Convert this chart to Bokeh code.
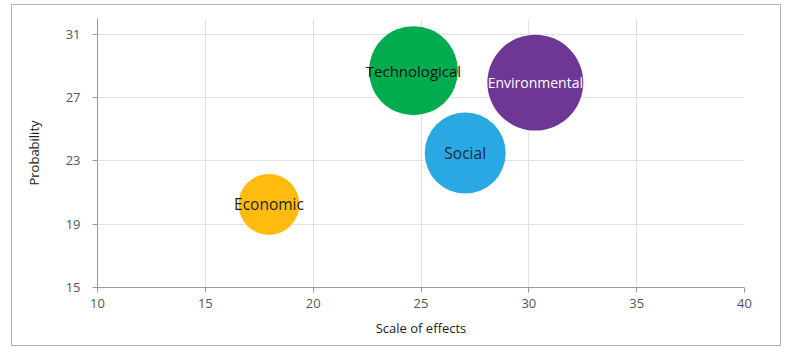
from bokeh.plotting import figure
from bokeh.models import ColumnDataSource, FixedTicker, Range1d
from bokeh.core.properties import value
from bokeh.embed import file_html
from bokeh.resources import INLINE
import math

categories = ["Economic", "Technological", "Environmental", "Social"]
scale_of_effects = [17.95, 24.65, 30.3, 27.05]
probability = [20.25, 28.7, 27.95, 23.5]
weight = [9.3, 19.8, 23.0, 16.4]
colors = ["#FFBC0F", "#00AC4E", "#6F3795", "#2AA8E3"]
label_colors = ["#1e1e1e", "#111111", "#FFFFFF", "#1e2a3a"]
label_sizes = ["15.5px", "15px", "14px", "15.5px"]
x_ticks = [10, 15, 20, 25, 30, 35, 40]
y_ticks = [15, 19, 23, 27, 31]

diam = [20 * math.sqrt(w) for w in weight]

src = ColumnDataSource(dict(x=scale_of_effects, y=probability, size=diam,
                            color=colors, name=categories, tcolor=label_colors,
                            tsize=label_sizes))

p = figure(width=770, height=342, output_backend="svg", toolbar_location=None,
           x_range=Range1d(10, 40), y_range=Range1d(15, 32),
           min_border_left=85, min_border_right=38, min_border_top=13, min_border_bottom=60)
p.margin = (4, 0, 0, 11)
p.styles = {"border": "1px solid #b4b4b4"}
p.outline_line_color = None
p.background_fill_color = "white"
p.border_fill_color = "white"

p.scatter("x", "y", size="size", fill_color="color", line_color=None, source=src)
p.text("x", "y", text="name", text_color="tcolor", text_align="center", text_baseline="middle",
       text_font=value("Open Sans"), text_font_size="tsize", source=src)

for ax in (p.xaxis, p.yaxis):
    ax.axis_line_color = "#9a9a9a"
    ax.major_tick_line_color = "#9a9a9a"
    ax.major_tick_in = 0
    ax.major_tick_out = 5
    ax.minor_tick_line_color = None
    ax.major_label_text_font = "Open Sans"
    ax.major_label_text_font_size = "13px"
    ax.major_label_text_color = "#555555"
    ax.axis_label_text_font = "Open Sans"
    ax.axis_label_text_font_size = "13px"
    ax.axis_label_text_font_style = "normal"
    ax.axis_label_text_color = "#222222"

p.xaxis.ticker = FixedTicker(ticks=x_ticks)
p.yaxis.ticker = FixedTicker(ticks=y_ticks)
p.xaxis.axis_label = "Scale of effects"
p.yaxis.axis_label = "Probability"
p.xaxis.axis_label_standoff = 8
p.yaxis.axis_label_standoff = 20
p.xaxis.major_label_standoff = 6
p.yaxis.major_label_standoff = 12

p.xgrid.ticker = FixedTicker(ticks=x_ticks)
p.ygrid.ticker = FixedTicker(ticks=y_ticks)
p.grid.grid_line_color = "#e2e2e2"
p.grid.grid_line_width = 1

open("out.html", "w").write(file_html(p, INLINE))
